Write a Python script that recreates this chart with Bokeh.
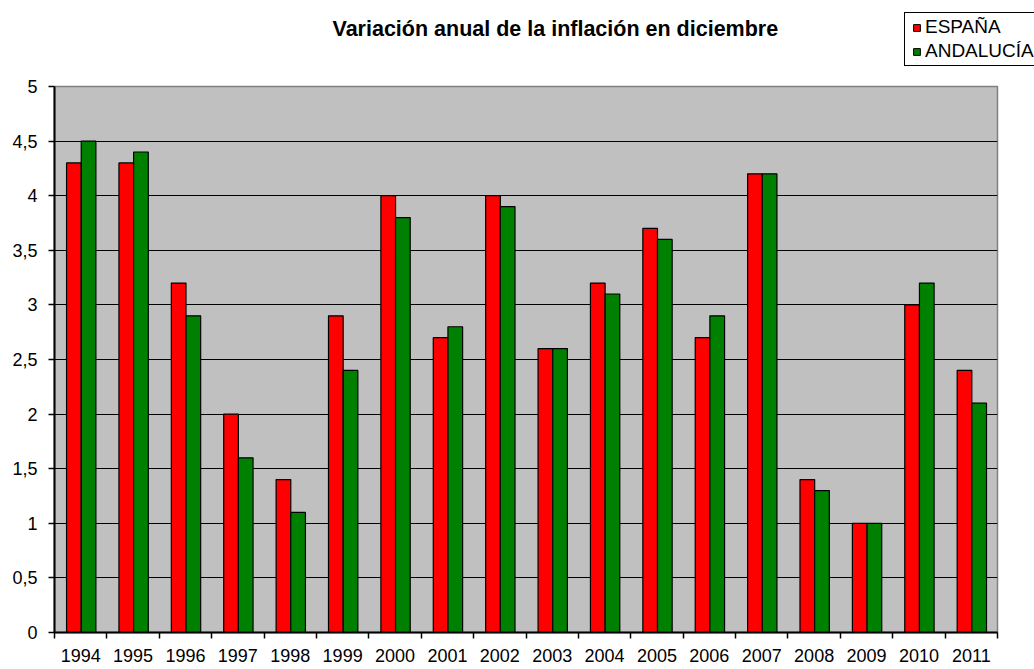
from bokeh.plotting import figure
from bokeh.models import (FixedTicker, CustomJSTickFormatter, Range1d, Legend,
                          LegendItem, ColumnDataSource, Label)
from bokeh.embed import file_html
from bokeh.resources import INLINE

years = ["1994", "1995", "1996", "1997", "1998", "1999", "2000", "2001", "2002",
         "2003", "2004", "2005", "2006", "2007", "2008", "2009", "2010", "2011"]
espana = [4.3, 4.3, 3.2, 2.0, 1.4, 2.9, 4.0, 2.7, 4.0, 2.6, 3.2, 3.7, 2.7, 4.2, 1.4, 1.0, 3.0, 2.4]
andalucia = [4.5, 4.4, 2.9, 1.6, 1.1, 2.4, 3.8, 2.8, 3.9, 2.6, 3.1, 3.6, 2.9, 4.2, 1.3, 1.0, 3.2, 2.1]
y_ticks = [0, 0.5, 1, 1.5, 2, 2.5, 3, 3.5, 4, 4.5, 5]
title_text = "Variación anual de la inflación en diciembre"
series_names = ["ESPAÑA", "ANDALUCÍA"]
colors = ["#FF0000", "#008000"]

FONT = "Liberation Sans"
W = 1034
TOP_H = 76
n = len(years)
idx = list(range(n))
src = ColumnDataSource(dict(
    x_es=[i + 0.37 for i in idx],
    x_an=[i + 0.65 for i in idx],
    es=espana,
    an=andalucia,
))

# ---- header figure: title + legend (its data lie outside its visible ranges) ----
ph = figure(width=W, height=TOP_H, output_backend="svg", toolbar_location=None,
            x_range=Range1d(1000, 1001), y_range=Range1d(1000, 1001),
            x_axis_location=None, y_axis_location=None,
            min_border_left=0, min_border_right=0, min_border_top=0, min_border_bottom=0)
ph.grid.visible = False
ph.outline_line_color = None
ph.background_fill_color = "white"
ph.border_fill_color = "white"

ph.add_layout(Label(x=332, y=TOP_H - 28, x_units="screen", y_units="screen",
                    text=title_text, text_font=FONT, text_font_size="21.5px",
                    text_font_style="bold", text_color="black",
                    text_baseline="middle", text_align="left"))

h1 = ph.scatter(x="x_es", y="es", marker="square", size=7, source=src,
                fill_color=colors[0], line_color="black", line_width=1)
h2 = ph.scatter(x="x_an", y="an", marker="square", size=7, source=src,
                fill_color=colors[1], line_color="black", line_width=1)
legend = Legend(items=[LegendItem(label=series_names[0], renderers=[h1]),
                       LegendItem(label=series_names[1], renderers=[h2])],
                location=(904, TOP_H - 66))
legend.label_text_font = FONT
legend.label_text_font_size = "19px"
legend.label_text_color = "black"
legend.glyph_width = 17
legend.glyph_height = 17
legend.label_height = 20
legend.label_standoff = 0
legend.spacing = 2
legend.padding = 3
legend.margin = 0
legend.border_line_color = "black"
legend.border_line_alpha = 1
legend.border_line_width = 1
legend.background_fill_color = "white"
legend.background_fill_alpha = 1
ph.add_layout(legend)

# ---- main chart ----
p = figure(width=W, height=669 - TOP_H, output_backend="svg", toolbar_location=None,
           x_range=Range1d(0, n), y_range=Range1d(0, 5),
           min_border_left=54, min_border_right=37, min_border_top=10,
           min_border_bottom=37)
p.background_fill_color = "#C0C0C0"
p.border_fill_color = "white"
p.outline_line_color = "#808080"
p.outline_line_width = 1.5

p.xgrid.visible = False
p.ygrid.ticker = FixedTicker(ticks=[t for t in y_ticks if 0 < t < 5])
p.ygrid.grid_line_color = "black"
p.ygrid.grid_line_width = 1.2

r1 = p.vbar(x="x_es", top="es", bottom=0, width=0.28, source=src,
            fill_color=colors[0], line_color="black", line_width=1.2)
r2 = p.vbar(x="x_an", top="an", bottom=0, width=0.28, source=src,
            fill_color=colors[1], line_color="black", line_width=1.2)

p.yaxis.ticker = FixedTicker(ticks=y_ticks)
p.yaxis.formatter = CustomJSTickFormatter(code="return tick.toString().replace('.', ',');")
p.yaxis.major_tick_in = 0
p.yaxis.major_tick_out = 6
p.yaxis.minor_tick_line_color = None
p.yaxis.major_label_standoff = 11
p.yaxis.axis_line_width = 2
p.yaxis.major_tick_line_width = 1.5

p.xaxis.ticker = FixedTicker(ticks=[i + 0.5 for i in idx], minor_ticks=list(range(n + 1)))
p.xaxis.formatter = CustomJSTickFormatter(args=dict(years=years),
                                          code="return years[Math.floor(tick)];")
p.xaxis.major_tick_line_color = None
p.xaxis.minor_tick_in = 0
p.xaxis.minor_tick_out = 6
p.xaxis.minor_tick_line_color = "black"
p.xaxis.minor_tick_line_width = 1.5
p.xaxis.major_label_standoff = 10
p.xaxis.axis_line_width = 2

for ax in (p.xaxis[0], p.yaxis[0]):
    ax.major_label_text_font = FONT
    ax.major_label_text_font_size = "18px"
    ax.major_label_text_color = "black"
    ax.axis_line_color = "black"

open("out.html", "w").write(file_html([ph, p], INLINE))
